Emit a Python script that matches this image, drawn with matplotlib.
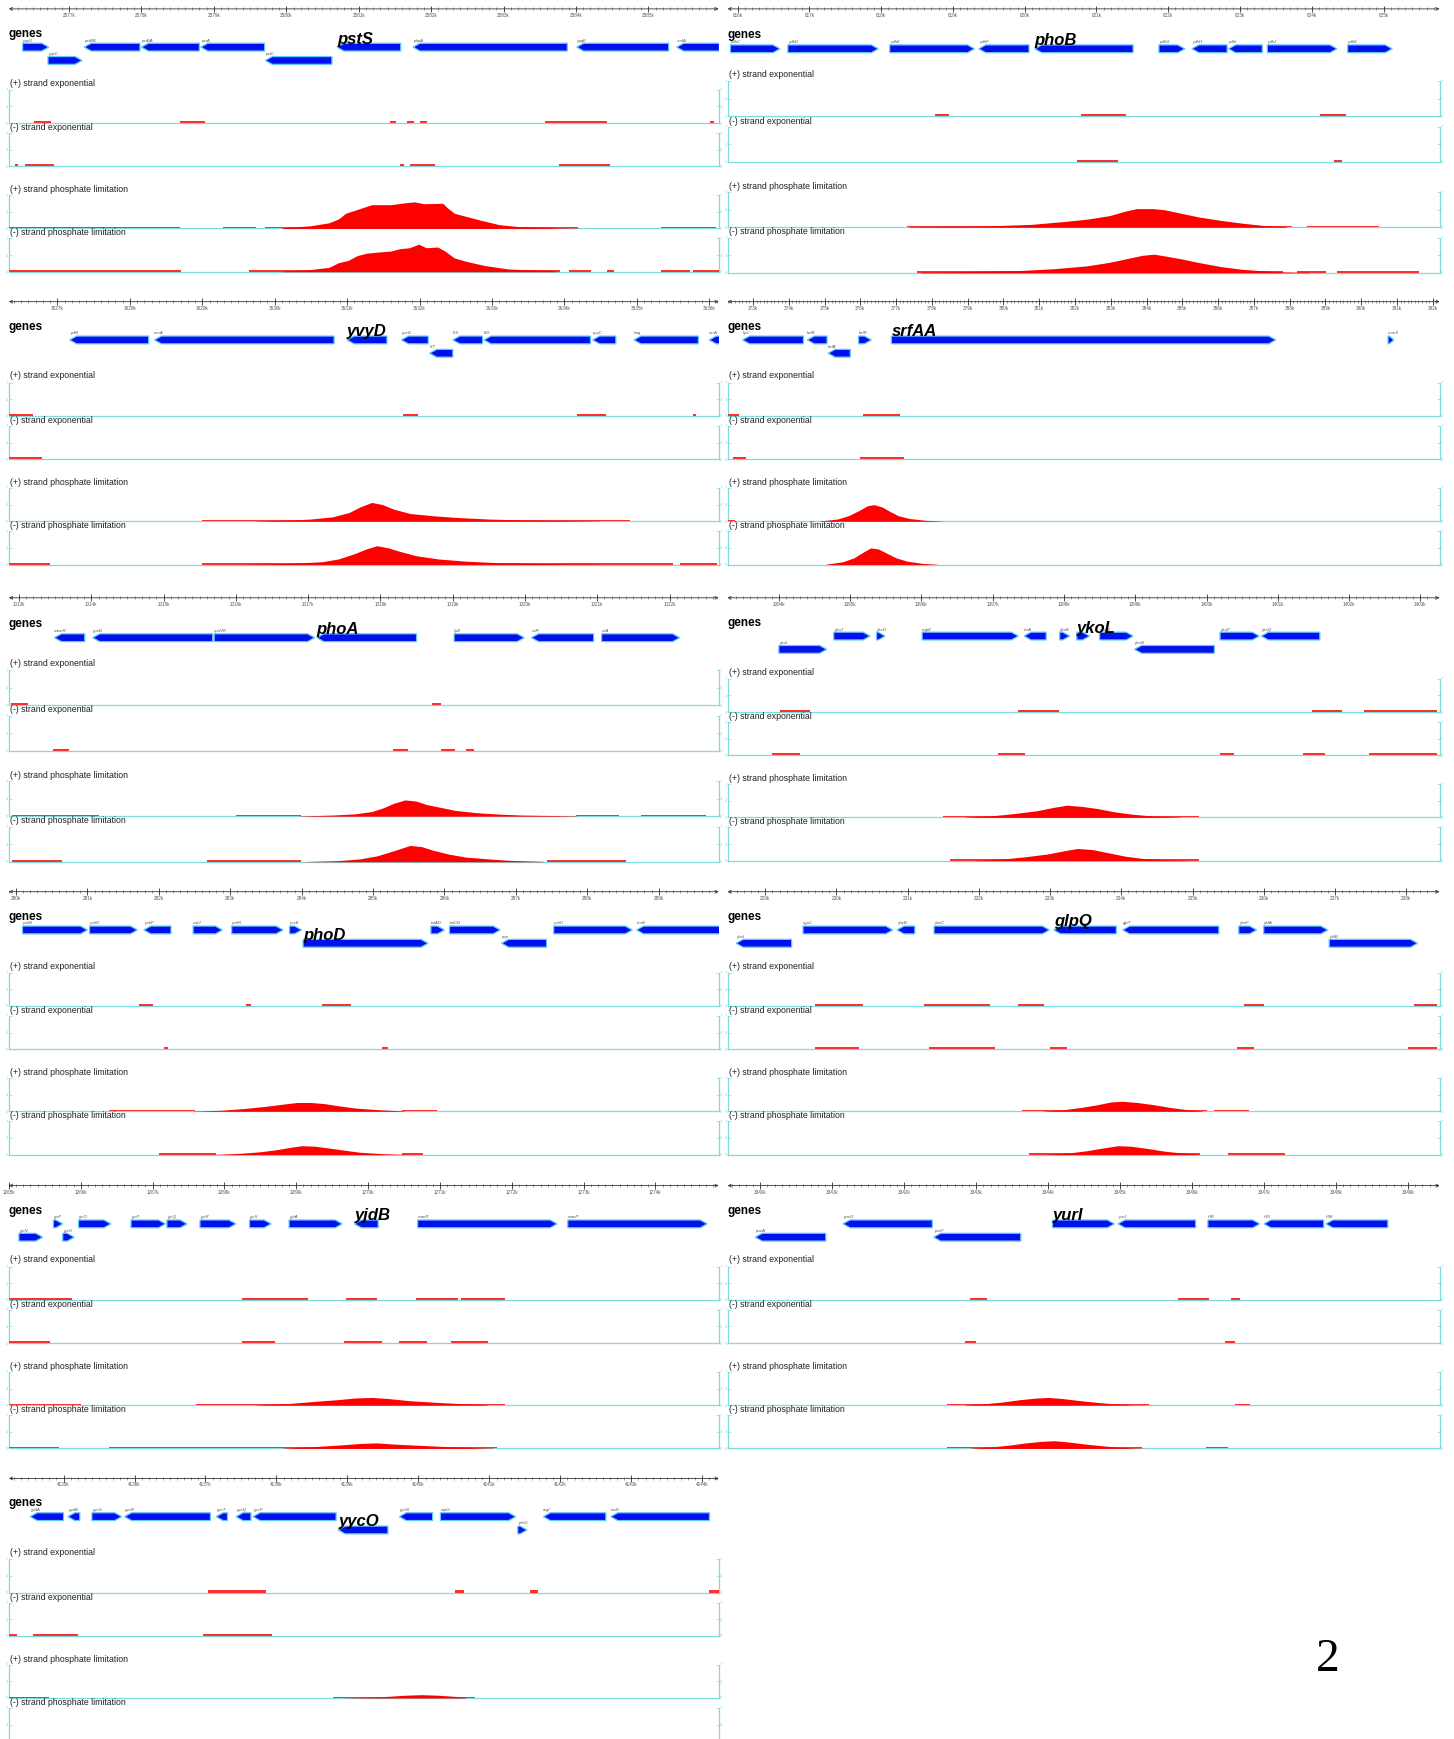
import numpy as np
import matplotlib.pyplot as plt
from matplotlib.patches import Polygon

plt.rcParams['font.family'] = ['Liberation Sans', 'DejaVu Sans']

# ---------------- data (kb coordinates, coverage 0..7) ----------------
# panel 1: pstS
P1_RANGE = (2576.17, 2585.97)
P1_FOCUS = 'pstS'
P1_GENES = [('yqzD', 2576.36, 2576.72, 1, 1), ('yqzC', 2576.71, 2577.18, 1, 2),
            ('pstBB', 2577.21, 2577.98, -1, 1), ('pstBA', 2578.00, 2578.80, -1, 1),
            ('pstA', 2578.82, 2579.70, -1, 1), ('pstC', 2579.71, 2580.63, -1, 2),
            ('pstS', 2580.70, 2581.58, -1, 1), ('pbpA', 2581.75, 2583.88, -1, 1),
            ('yqgE', 2584.01, 2585.28, -1, 1), ('sodA', 2585.39, 2585.98, -1, 1)]
P1_EXP_PLUS = [(2576.52, 2576.75), (2578.53, 2578.88), (2581.43, 2581.52), (2581.67, 2581.77),
               (2581.84, 2581.94), (2583.57, 2584.43), (2585.85, 2585.91)]
P1_EXP_MINUS = [(2576.26, 2576.30), (2576.39, 2576.79), (2581.57, 2581.62), (2581.71, 2582.06),
                (2583.76, 2584.47)]
P1_LOW_PLUS = [(2576.15, 2578.53), (2579.13, 2579.58), (2579.71, 2584.03), (2585.18, 2585.93)]
P1_LOW_MINUS = [(2576.15, 2578.54), (2579.49, 2583.78), (2583.91, 2584.21), (2584.43, 2584.53),
                (2585.18, 2585.57), (2585.61, 2585.97)]
P1_PHOS_PLUS = [(2579.94, 0.16), (2580.33, 0.56), (2580.59, 1.2), (2580.72, 2.0), (2580.82, 3.2),
                (2580.98, 4.0), (2581.18, 5.0), (2581.44, 5.0), (2581.64, 5.4), (2581.77, 5.6),
                (2581.90, 5.2), (2582.16, 5.3), (2582.22, 4.4), (2582.32, 3.2), (2582.48, 2.55),
                (2582.68, 1.75), (2582.94, 0.8), (2583.20, 0.4), (2583.72, 0.16), (2584.04, 0.08)]
P1_PHOS_MINUS = [(2579.94, 0.14), (2580.27, 0.35), (2580.59, 0.92), (2580.72, 1.9), (2580.85, 2.35),
                 (2580.98, 3.4), (2581.11, 3.9), (2581.24, 4.1), (2581.44, 4.35), (2581.57, 4.85),
                 (2581.70, 5.05), (2581.83, 5.8), (2581.93, 5.05), (2582.09, 5.2), (2582.19, 4.35),
                 (2582.32, 2.9), (2582.48, 2.2), (2582.74, 1.3), (2583.07, 0.57), (2583.72, 0.22)]

# panel 2: phoB
P2_RANGE = (615.86, 625.78)
P2_FOCUS = 'phoB'
P2_GENES = [('ydhC', 615.90, 616.59, 1, 1), ('ydhD', 616.70, 617.96, 1, 1),
            ('ydhE', 618.12, 619.30, 1, 1), ('ydhF', 619.36, 620.06, -1, 1),
            ('phoB', 620.14, 621.51, -1, 1), ('ydhG', 621.87, 622.23, 1, 1),
            ('ydhH', 622.33, 622.82, -1, 1), ('ydhI', 622.84, 623.31, -1, 1),
            ('ydhJ', 623.38, 624.35, 1, 1), ('ydhK', 624.50, 625.12, 1, 1)]
P2_EXP_PLUS = [(618.75, 618.94), (620.79, 621.41), (624.11, 624.47)]
P2_EXP_MINUS = [(620.73, 621.30), (624.31, 624.42)]
P2_LOW_PLUS = [(618.36, 623.73), (623.93, 624.93)]
P2_LOW_MINUS = [(618.5, 623.6), (623.8, 624.2), (624.35, 625.5)]
P2_PHOS_PLUS = [(618.39, 0.12), (619.32, 0.23), (619.63, 0.35), (620.09, 0.58), (620.56, 1.17),
                (620.87, 1.63), (621.18, 2.33), (621.41, 3.26), (621.56, 3.73), (621.79, 3.73),
                (621.95, 3.5), (622.18, 2.8), (622.41, 2.1), (622.72, 1.4), (623.03, 0.82),
                (623.34, 0.35), (623.65, 0.12)]
P2_PHOS_MINUS = [(618.55, 0.12), (619.32, 0.28), (619.94, 0.47), (620.40, 0.82), (620.87, 1.4),
                 (621.18, 2.1), (621.41, 2.8), (621.64, 3.5), (621.80, 3.73), (621.95, 3.38),
                 (622.18, 2.8), (622.41, 2.1), (622.72, 1.28), (623.03, 0.7), (623.50, 0.23),
                 (623.96, 0.09)]

# panel 3: yvyD
P3_RANGE = (3626.33, 3636.13)
P3_FOCUS = 'yvyD'
P3_GENES = [('prfB', 3627.17, 3628.26, -1, 1), ('secA', 3628.34, 3630.82, -1, 1),
            ('yvyD', 3631.00, 3631.55, -1, 1), ('yvzG', 3631.75, 3632.12, -1, 1),
            ('fliT', 3632.14, 3632.46, -1, 2), ('fliS', 3632.46, 3632.87, -1, 1),
            ('fliD', 3632.89, 3634.36, -1, 1), ('yvyC', 3634.39, 3634.71, -1, 1),
            ('hag', 3634.96, 3635.85, -1, 1), ('csrA', 3636.00, 3636.25, -1, 1)]
P3_EXP_PLUS = [(3626.33, 3626.67), (3631.77, 3631.98), (3634.17, 3634.57), (3635.77, 3635.82)]
P3_EXP_MINUS = [(3626.33, 3626.79)]
P3_LOW_PLUS = [(3629.0, 3634.9)]
P3_LOW_MINUS = [(3626.33, 3626.9), (3629.0, 3635.5), (3635.6, 3636.1)]
P3_PHOS_PLUS = [(3629.73, 0.07), (3630.19, 0.23), (3630.50, 0.47), (3630.80, 0.93), (3631.03, 1.86),
                (3631.18, 3.03), (3631.34, 3.96), (3631.49, 3.5), (3631.64, 2.56), (3631.87, 1.63),
                (3632.18, 1.17), (3632.49, 0.82), (3632.95, 0.47), (3633.56, 0.23), (3634.48, 0.07)]
P3_PHOS_MINUS = [(3629.65, 0.07), (3630.19, 0.23), (3630.65, 0.58), (3630.88, 1.17), (3631.11, 2.33),
                 (3631.26, 3.26), (3631.41, 3.96), (3631.57, 3.5), (3631.72, 2.8), (3631.95, 1.86),
                 (3632.26, 1.17), (3632.64, 0.7), (3633.10, 0.37), (3633.71, 0.19), (3634.48, 0.07)]

# panel 4: srfAA
P4_RANGE = (372.29, 392.19)
P4_FOCUS = 'srfAA'
P4_GENES = [('lipC', 372.71, 374.41, -1, 1), ('hxlB', 374.52, 375.07, -1, 1),
            ('hxlA', 375.10, 375.72, -1, 2), ('hxlR', 375.95, 376.31, 1, 1),
            ('srfAA', 376.87, 387.61, 1, 1), ('comS', 390.75, 390.91, 1, 1)]
P4_EXP_PLUS = [(372.29, 372.6), (376.07, 377.12)]
P4_EXP_MINUS = [(372.45, 372.8), (375.98, 377.22)]
P4_LOW_PLUS = [(372.29, 372.5)]
P4_LOW_MINUS = []
P4_PHOS_PLUS = [(374.89, 0.07), (375.36, 0.47), (375.67, 1.17), (375.98, 2.33), (376.20, 3.26),
                (376.38, 3.5), (376.60, 3.03), (376.82, 2.1), (377.06, 1.17), (377.37, 0.58),
                (377.84, 0.19), (378.30, 0.05)]
P4_PHOS_MINUS = [(375.05, 0.07), (375.51, 0.58), (375.82, 1.4), (376.07, 2.56), (376.29, 3.5),
                 (376.51, 3.26), (376.75, 2.33), (377.00, 1.4), (377.31, 0.7), (377.75, 0.23),
                 (378.15, 0.05)]

# panel 5: phoA
P5_RANGE = (1012.86, 1022.68)
P5_FOCUS = 'phoA'
P5_GENES = [('msmR', 1013.49, 1013.91, -1, 1), ('ypxB', 1014.02, 1015.68, -1, 1),
            ('spoVR', 1015.70, 1017.09, 1, 1), ('phoA', 1017.12, 1018.50, -1, 1),
            ('lytE', 1019.02, 1019.99, 1, 1), ('citR', 1020.09, 1020.95, -1, 1),
            ('citA', 1021.06, 1022.14, 1, 1)]
P5_EXP_PLUS = [(1012.89, 1013.12), (1018.72, 1018.84)]
P5_EXP_MINUS = [(1013.47, 1013.69), (1018.18, 1018.38), (1018.84, 1019.03), (1019.18, 1019.30)]
P5_LOW_PLUS = [(1012.9, 1014.1), (1016.0, 1016.9), (1020.7, 1021.3), (1021.6, 1022.5)]
P5_LOW_MINUS = [(1012.9, 1013.6), (1015.6, 1016.9), (1020.3, 1021.4)]
P5_PHOS_PLUS = [(1016.88, 0.05), (1017.34, 0.23), (1017.65, 0.47), (1017.88, 0.93), (1018.03, 1.63),
                (1018.18, 2.56), (1018.34, 3.26), (1018.49, 3.03), (1018.64, 2.33), (1018.80, 1.86),
                (1019.03, 1.17), (1019.33, 0.7), (1019.64, 0.42), (1019.95, 0.23), (1020.71, 0.07)]
P5_PHOS_MINUS = [(1016.95, 0.05), (1017.42, 0.23), (1017.72, 0.58), (1017.95, 1.17), (1018.11, 1.86),
                 (1018.26, 2.56), (1018.41, 3.26), (1018.57, 3.03), (1018.72, 2.33), (1018.95, 1.51),
                 (1019.18, 0.93), (1019.49, 0.58), (1019.79, 0.28), (1020.25, 0.09)]

# panel 6: ykoL
P6_RANGE = (1393.28, 1403.27)
P6_FOCUS = 'ykoL'
P6_GENES = [('ykoI', 1394.00, 1394.67, 1, 2), ('ykoJ', 1394.77, 1395.28, 1, 1),
            ('ykzO', 1395.37, 1395.49, 1, 1), ('mgtE', 1396.01, 1397.36, 1, 1),
            ('tnrA', 1397.44, 1397.75, -1, 1), ('ykzB', 1397.94, 1398.08, 1, 1),
            ('ykoL', 1398.18, 1398.36, 1, 1), ('ykoM', 1398.50, 1398.97, 1, 1),
            ('ykoN', 1398.99, 1400.11, -1, 2), ('ykoP', 1400.19, 1400.74, 1, 1),
            ('ykoQ', 1400.77, 1401.59, -1, 1)]
P6_EXP_PLUS = [(1394.01, 1394.43), (1397.35, 1397.93), (1401.48, 1401.90), (1402.21, 1403.23)]
P6_EXP_MINUS = [(1393.9, 1394.3), (1397.07, 1397.46), (1400.19, 1400.39), (1401.35, 1401.66),
                (1402.28, 1403.23)]
P6_LOW_PLUS = [(1396.3, 1399.9)]
P6_LOW_MINUS = [(1396.4, 1399.9)]
P6_PHOS_PLUS = [(1396.61, 0.07), (1397.00, 0.35), (1397.31, 0.82), (1397.62, 1.4), (1397.85, 2.1),
                (1398.04, 2.56), (1398.24, 2.33), (1398.47, 1.86), (1398.71, 1.17), (1398.94, 0.7),
                (1399.25, 0.28), (1399.64, 0.07)]
P6_PHOS_MINUS = [(1396.76, 0.07), (1397.15, 0.35), (1397.46, 0.82), (1397.77, 1.4), (1398.01, 2.1),
                 (1398.19, 2.56), (1398.40, 2.33), (1398.63, 1.63), (1398.86, 0.93), (1399.10, 0.47),
                 (1399.41, 0.19), (1399.72, 0.05)]

# panel 7: phoD
P7_RANGE = (279.90, 289.84)
P7_FOCUS = 'phoD'
P7_GENES = [('ycbN', 280.09, 281.00, 1, 1), ('ycbO', 281.03, 281.70, 1, 1),
            ('ycbP', 281.79, 282.17, -1, 1), ('cwlJ', 282.48, 282.89, 1, 1),
            ('ycbR', 283.02, 283.74, 1, 1), ('yczK', 283.83, 284.00, 1, 1),
            ('phoD', 284.02, 285.77, 1, 2), ('tatAD', 285.81, 286.00, 1, 1),
            ('tatCD', 286.07, 286.78, 1, 1), ('pcp', 286.80, 287.43, -1, 2),
            ('ycbU', 287.53, 288.63, 1, 1), ('lmrB', 288.69, 289.95, -1, 1)]
P7_EXP_PLUS = [(281.72, 281.92), (283.22, 283.29), (284.28, 284.69)]
P7_EXP_MINUS = [(282.07, 282.13), (285.13, 285.21)]
P7_LOW_PLUS = [(281.3, 282.5), (285.4, 285.9)]
P7_LOW_MINUS = [(282.0, 282.8), (285.4, 285.7)]
P7_PHOS_PLUS = [(282.49, 0.05), (282.88, 0.23), (283.19, 0.58), (283.50, 1.05), (283.74, 1.51),
                (283.94, 1.86), (284.12, 1.86), (284.31, 1.63), (284.51, 1.17), (284.74, 0.7),
                (285.06, 0.35), (285.44, 0.09)]
P7_PHOS_MINUS = [(282.80, 0.05), (283.11, 0.23), (283.42, 0.58), (283.66, 1.05), (283.84, 1.51),
                 (284.00, 1.86), (284.19, 1.75), (284.37, 1.4), (284.59, 0.93), (284.82, 0.47),
                 (285.13, 0.19), (285.44, 0.05)]

# panel 8: glpQ
P8_RANGE = (228.47, 238.47)
P8_FOCUS = 'glpQ'
P8_GENES = [('ybxI', 228.59, 229.37, -1, 2), ('cypC', 229.53, 230.79, 1, 1),
            ('ybyB', 230.85, 231.10, -1, 1), ('ybeC', 231.37, 232.99, 1, 1),
            ('glpQ', 233.05, 233.93, -1, 1), ('glpT', 234.02, 235.37, -1, 1),
            ('ybeF', 235.65, 235.90, 1, 1), ('ybfA', 236.00, 236.90, 1, 1),
            ('ybfB', 236.92, 238.16, 1, 2)]
P8_EXP_PLUS = [(229.70, 230.37), (231.23, 232.15), (232.55, 232.92), (235.73, 236.01), (238.11, 238.44)]
P8_EXP_MINUS = [(229.70, 230.32), (231.30, 232.22), (233.00, 233.24), (235.62, 235.86), (238.03, 238.44)]
P8_LOW_PLUS = [(232.6, 235.2), (235.3, 235.8)]
P8_LOW_MINUS = [(232.7, 235.1), (235.5, 236.3)]
P8_PHOS_PLUS = [(232.89, 0.05), (233.20, 0.35), (233.44, 0.82), (233.67, 1.4), (233.86, 1.98),
                (234.02, 2.1), (234.22, 1.86), (234.45, 1.4), (234.68, 0.82), (234.92, 0.35),
                (235.15, 0.07)]
P8_PHOS_MINUS = [(232.97, 0.05), (233.28, 0.35), (233.52, 0.82), (233.75, 1.4), (233.95, 1.86),
                 (234.14, 1.75), (234.37, 1.28), (234.61, 0.7), (234.84, 0.35), (235.07, 0.07)]

# panel 9: yjdB
P9_RANGE = (1265.0, 1274.88)
P9_FOCUS = 'yjdB'
P9_GENES = [('yjcN', 1265.14, 1265.47, 1, 2), ('yjzF', 1265.62, 1265.75, 1, 1),
            ('yjzG', 1265.75, 1265.91, 1, 2), ('yjcO', 1265.97, 1266.42, 1, 1),
            ('yjcP', 1266.70, 1267.18, 1, 1), ('yjcQ', 1267.20, 1267.48, 1, 1),
            ('yjcR', 1267.66, 1268.16, 1, 1), ('yjcS', 1268.35, 1268.65, 1, 1),
            ('yjdA', 1268.90, 1269.64, 1, 1), ('yjdB', 1269.81, 1270.14, -1, 1),
            ('manR', 1270.69, 1272.63, 1, 1), ('manP', 1272.78, 1274.72, 1, 1)]
P9_EXP_PLUS = [(1265.0, 1265.88), (1268.24, 1269.17), (1269.69, 1270.12), (1270.66, 1271.25),
               (1271.30, 1271.90)]
P9_EXP_MINUS = [(1265.0, 1265.57), (1268.24, 1268.70), (1269.66, 1270.20), (1270.43, 1270.82),
                (1271.16, 1271.67)]
P9_LOW_PLUS = [(1265.0, 1266.0), (1267.6, 1271.9)]
P9_LOW_MINUS = [(1265.0, 1265.7), (1266.4, 1271.8)]
P9_PHOS_PLUS = [(1268.43, 0.07), (1268.89, 0.35), (1269.27, 0.82), (1269.58, 1.17), (1269.81, 1.51),
                (1270.05, 1.63), (1270.28, 1.4), (1270.59, 0.93), (1270.97, 0.58), (1271.36, 0.28),
                (1271.67, 0.09)]
P9_PHOS_MINUS = [(1268.81, 0.07), (1269.20, 0.35), (1269.58, 0.7), (1269.89, 1.05), (1270.12, 1.17),
                 (1270.35, 0.93), (1270.66, 0.7), (1271.05, 0.42), (1271.44, 0.19), (1271.74, 0.07)]

# panel 10: yurI
P10_RANGE = (3339.545, 3349.44)
P10_FOCUS = 'yurI'
P10_GENES = [('pucA', 3339.93, 3340.91, -1, 2), ('pucG', 3341.15, 3342.39, -1, 1),
             ('pucF', 3342.41, 3343.62, -1, 2), ('yurI', 3344.06, 3344.92, 1, 1),
             ('yurJ', 3344.97, 3346.05, -1, 1), ('frlR', 3346.22, 3346.94, 1, 1),
             ('frlO', 3347.00, 3347.83, -1, 1), ('frlM', 3347.86, 3348.72, -1, 1)]
P10_EXP_PLUS = [(3342.92, 3343.15), (3345.80, 3346.23), (3346.54, 3346.66)]
P10_EXP_MINUS = [(3342.84, 3343.0), (3346.46, 3346.59)]
P10_LOW_PLUS = [(3342.6, 3345.4), (3346.6, 3346.8)]
P10_LOW_MINUS = [(3342.6, 3345.3), (3346.2, 3346.5)]
P10_PHOS_PLUS = [(3342.84, 0.07), (3343.15, 0.35), (3343.38, 0.7), (3343.61, 1.17), (3343.84, 1.51),
                 (3344.00, 1.63), (3344.20, 1.4), (3344.46, 0.93), (3344.69, 0.58), (3344.92, 0.28),
                 (3345.15, 0.09), (3345.46, 0.02)]
P10_PHOS_MINUS = [(3342.92, 0.07), (3343.23, 0.35), (3343.46, 0.7), (3343.69, 1.17), (3343.92, 1.51),
                  (3344.08, 1.63), (3344.26, 1.4), (3344.51, 0.93), (3344.77, 0.54), (3345.00, 0.23),
                  (3345.31, 0.07)]

# panel 11: yycO
P11_RANGE = (4134.23, 4144.23)
P11_FOCUS = 'yycO'
P11_GENES = [('yydA', 4134.53, 4135.00, -1, 1), ('yydB', 4135.06, 4135.23, -1, 1),
             ('yycS', 4135.40, 4135.82, 1, 1), ('yycR', 4135.86, 4137.07, -1, 1),
             ('yycT', 4137.15, 4137.31, -1, 1), ('yycQ', 4137.43, 4137.64, -1, 1),
             ('yycP', 4137.67, 4138.84, -1, 1), ('yycO', 4138.87, 4139.57, -1, 2),
             ('yycN', 4139.73, 4140.20, -1, 1), ('rapG', 4140.31, 4141.37, 1, 1),
             ('phrG', 4141.40, 4141.53, 1, 2), ('argI', 4141.76, 4142.64, -1, 1),
             ('rocE', 4142.71, 4144.10, -1, 1)]
P11_EXP_PLUS = [(4137.04, 4137.85), (4140.51, 4140.64), (4141.57, 4141.68), (4144.10, 4144.23)]
P11_EXP_MINUS = [(4134.23, 4134.34), (4134.57, 4135.20), (4136.96, 4137.93)]
P11_LOW_PLUS = [(4134.23, 4134.8), (4138.8, 4140.8)]
P11_LOW_MINUS = []
P11_PHOS_PLUS = [(4138.95, 0.02), (4139.26, 0.12), (4139.57, 0.35), (4139.81, 0.58), (4140.04, 0.7),
                 (4140.28, 0.58), (4140.51, 0.35), (4140.67, 0.07)]
P11_PHOS_MINUS = []

TRACK_NAMES = ['(+) strand exponential', '(-) strand exponential',
               '(+) strand phosphate limitation', '(-) strand phosphate limitation']

# ---------------- layout ----------------
W, H = 1454, 1739
S = W / 1311.0                      # reference preview px -> output px
COL_X = [(8, 648), (656, 1298)]
ROW_Y = [8, 272, 539, 804, 1069, 1333]
CYAN = '#7fdcdc'
RED = '#ff0000'
BLUE = '#0010ea'

PANELS = [
    (0, 0, P1_RANGE, P1_FOCUS, P1_GENES, P1_EXP_PLUS, P1_EXP_MINUS, P1_LOW_PLUS, P1_LOW_MINUS, P1_PHOS_PLUS, P1_PHOS_MINUS),
    (1, 0, P2_RANGE, P2_FOCUS, P2_GENES, P2_EXP_PLUS, P2_EXP_MINUS, P2_LOW_PLUS, P2_LOW_MINUS, P2_PHOS_PLUS, P2_PHOS_MINUS),
    (0, 1, P3_RANGE, P3_FOCUS, P3_GENES, P3_EXP_PLUS, P3_EXP_MINUS, P3_LOW_PLUS, P3_LOW_MINUS, P3_PHOS_PLUS, P3_PHOS_MINUS),
    (1, 1, P4_RANGE, P4_FOCUS, P4_GENES, P4_EXP_PLUS, P4_EXP_MINUS, P4_LOW_PLUS, P4_LOW_MINUS, P4_PHOS_PLUS, P4_PHOS_MINUS),
    (0, 2, P5_RANGE, P5_FOCUS, P5_GENES, P5_EXP_PLUS, P5_EXP_MINUS, P5_LOW_PLUS, P5_LOW_MINUS, P5_PHOS_PLUS, P5_PHOS_MINUS),
    (1, 2, P6_RANGE, P6_FOCUS, P6_GENES, P6_EXP_PLUS, P6_EXP_MINUS, P6_LOW_PLUS, P6_LOW_MINUS, P6_PHOS_PLUS, P6_PHOS_MINUS),
    (0, 3, P7_RANGE, P7_FOCUS, P7_GENES, P7_EXP_PLUS, P7_EXP_MINUS, P7_LOW_PLUS, P7_LOW_MINUS, P7_PHOS_PLUS, P7_PHOS_MINUS),
    (1, 3, P8_RANGE, P8_FOCUS, P8_GENES, P8_EXP_PLUS, P8_EXP_MINUS, P8_LOW_PLUS, P8_LOW_MINUS, P8_PHOS_PLUS, P8_PHOS_MINUS),
    (0, 4, P9_RANGE, P9_FOCUS, P9_GENES, P9_EXP_PLUS, P9_EXP_MINUS, P9_LOW_PLUS, P9_LOW_MINUS, P9_PHOS_PLUS, P9_PHOS_MINUS),
    (1, 4, P10_RANGE, P10_FOCUS, P10_GENES, P10_EXP_PLUS, P10_EXP_MINUS, P10_LOW_PLUS, P10_LOW_MINUS, P10_PHOS_PLUS, P10_PHOS_MINUS),
    (0, 5, P11_RANGE, P11_FOCUS, P11_GENES, P11_EXP_PLUS, P11_EXP_MINUS, P11_LOW_PLUS, P11_LOW_MINUS, P11_PHOS_PLUS, P11_PHOS_MINUS),
]

fig = plt.figure(figsize=(W / 100, H / 100), dpi=100)
fig.patch.set_facecolor('white')


def box(x0, x1, y0, y1):
    # preview px, y measured from top
    return fig.add_axes([x0 * S / W, 1 - y1 * S / H, (x1 - x0) * S / W, (y1 - y0) * S / H])


def draw_ruler(x0, x1, ry, lo, hi):
    ax = box(x0, x1, ry - 5, ry + 10)
    ax.set_xlim(lo, hi)
    ax.set_ylim(10, -5)
    ax.axis('off')
    ax.annotate('', xy=(hi, 0), xytext=(lo, 0),
                arrowprops=dict(arrowstyle='<->', color='#333333', lw=0.6,
                                mutation_scale=5, shrinkA=0, shrinkB=0))
    minor = np.arange(np.ceil(lo * 10), np.floor(hi * 10) + 1) / 10
    ax.vlines(minor, -1.3, 1.3, color='#555555', lw=0.4)
    major = np.arange(np.ceil(lo), np.floor(hi) + 1)
    ax.vlines(major, -3, 3, color='#333333', lw=0.6)
    for m in major:
        ax.text(m, 3.6, f'{int(m)}k', fontsize=3.3, ha='center', va='top', color='#555555')


def draw_genes(x0, x1, ry, lo, hi, genes, focus, two_rows):
    ax = box(x0, x1, ry + 12, ry + 56)
    ax.set_xlim(lo, hi)
    ax.set_ylim(56, 12)
    ax.axis('off')
    rows = {1: 34.5, 2: 46.5} if two_rows else {1: 36}
    ax.text(0.0, 22.5 if two_rows else 24, 'genes', transform=ax.get_yaxis_transform(),
            fontsize=8.5, fontweight='bold', va='center', ha='left')
    kbpp = (hi - lo) / ((x1 - x0) * S)
    head = 7 * kbpp
    h = 3.5
    for name, a, b, strand, row in genes:
        y = rows[row]
        hl = min(head, (b - a) * 0.8)
        if strand > 0:
            pts = [(a, y - h), (b - hl, y - h), (b, y), (b - hl, y + h), (a, y + h)]
        else:
            pts = [(a, y), (a + hl, y - h), (b, y - h), (b, y + h), (a + hl, y + h)]
        ax.add_patch(Polygon(pts, closed=True, fc=BLUE, ec='#5fc8ff', lw=0.9))
        if name == focus:
            ax.text(a, y - h + 0.3, name, fontsize=12, fontweight='bold', style='italic',
                    ha='left', va='baseline', color='black', zorder=5)
        else:
            ax.text(a, y - h - 0.6, name, fontsize=3.2, style='italic', color='#555555',
                    ha='left', va='bottom')


def draw_track(x0, x1, top, base, lo, hi, segs, low, prof):
    ax = box(x0, x1, top, base)
    ax.set_xlim(lo, hi)
    ax.set_ylim(0, 7)
    ax.set_facecolor('none')
    ax.spines['top'].set_visible(False)
    for sp in ['left', 'right', 'bottom']:
        ax.spines[sp].set_color(CYAN)
        ax.spines[sp].set_linewidth(0.9)
    ax.set_xticks([])
    ax.set_yticks([0, 3.5, 7])
    # tick labels below the page edge would just be cut off
    ax.set_yticklabels(['0' if base * S < H - 6 else '', '4', '7'])
    ax.tick_params(axis='y', left=True, right=True, labelleft=True, labelright=True,
                   direction='in', length=2, width=0.5, color=CYAN, labelcolor=CYAN,
                   labelsize=3, pad=0.6)
    if low:
        ax.broken_barh([(s, e - s) for s, e in low], (0, 0.3), facecolors='#ff3030', zorder=3)
    if segs:
        ax.broken_barh([(s, e - s) for s, e in segs], (0, 0.45), facecolors='#ff3030', zorder=3)
    if prof:
        xs = [p[0] for p in prof]
        vs = [p[1] for p in prof]
        ax.fill_between(xs, 0, vs, color=RED, lw=0, zorder=3)


for col, row, rng, focus, genes, ep, em, lp, lm, pp, pm in PANELS:
    x0, x1 = COL_X[col]
    ry = ROW_Y[row]
    lo, hi = rng
    two = any(g[4] == 2 for g in genes)
    draw_ruler(x0, x1, ry, lo, hi)
    draw_genes(x0, x1, ry, lo, hi, genes, focus, two)

    s = 1.0 if two else 179 / 170.0
    lab0 = ry + (67 if two else 59)
    bases = [lab0 + s * b for b in (36, 75, 131, 170)]
    labels = [lab0 + s * b for b in (0, 40, 96, 135)]
    data = [(ep, None, None), (em, None, None), (None, lp, pp), (None, lm, pm)]
    for k in range(4):
        segs, low, prof = data[k]
        draw_track(x0, x1, bases[k] - 30 * s, bases[k], lo, hi, segs, low, prof)
        fig.text((x0 + 1) * S / W, 1 - labels[k] * S / H, TRACK_NAMES[k],
                 fontsize=6.3, color='#222222', ha='left', va='center')

fig.text(1328 / W, 1 - 1660 / H, '2', fontsize=34, family=['Liberation Serif', 'DejaVu Serif'],
         ha='center', va='center', color='black')

fig.savefig('out.png', dpi=100, facecolor='white')
